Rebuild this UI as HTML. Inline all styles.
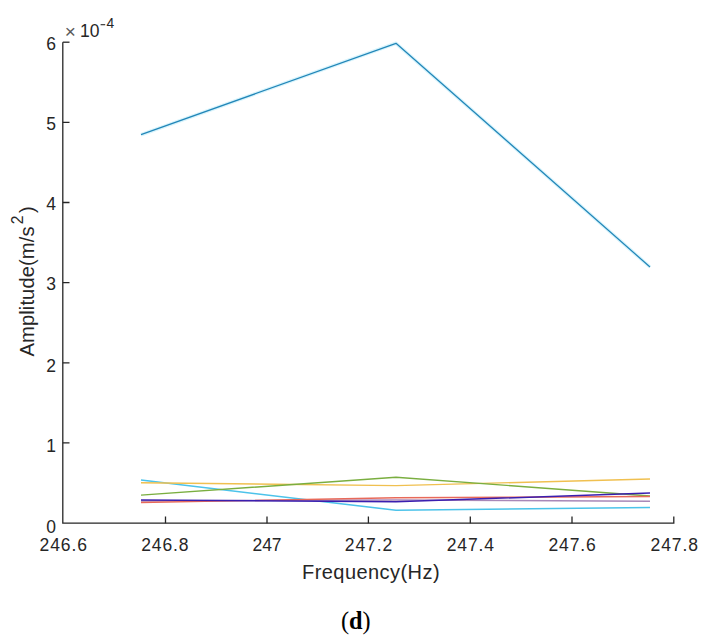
<!DOCTYPE html>
<html><head><meta charset="utf-8">
<style>
html,body{margin:0;padding:0;background:#fff;width:712px;height:641px;overflow:hidden}
svg{display:block}
text{font-family:"Liberation Sans",sans-serif;fill:#262626}
</style></head><body>
<svg width="712" height="641" viewBox="0 0 712 641">
<rect width="712" height="641" fill="#fff"/>
<!-- axes -->
<g stroke="#262626" stroke-width="1.3" fill="none">
<path d="M62.8 42.2 V523.2 H673.8 V516.5"/>
<path d="M62.8 42.2 H69.5"/>
<path d="M62.8 122.3 H69.5 M62.8 202.5 H69.5 M62.8 282.6 H69.5 M62.8 362.8 H69.5 M62.8 442.9 H69.5"/>
<path d="M165.5 523.2 V516.5 M267 523.2 V516.5 M368.4 523.2 V516.5 M470.3 523.2 V516.5 M572 523.2 V516.5"/>
</g>
<!-- y tick labels -->
<g font-size="17.5" text-anchor="end">
<text x="56" y="49.5">6</text>
<text x="56" y="129.5">5</text>
<text x="56" y="209.6">4</text>
<text x="56" y="289.7">3</text>
<text x="56" y="371.6">2</text>
<text x="56" y="452">1</text>
<text x="56" y="532.6">0</text>
</g>
<!-- x tick labels -->
<g font-size="17.5">
<text x="39.6" y="551" textLength="47.4" lengthAdjust="spacing">246.6</text>
<text x="141.2" y="551" textLength="47.4" lengthAdjust="spacing">246.8</text>
<text x="252.4" y="551" textLength="29.2" lengthAdjust="spacing">247</text>
<text x="344.8" y="551" textLength="47.4" lengthAdjust="spacing">247.2</text>
<text x="446.7" y="551" textLength="47.4" lengthAdjust="spacing">247.4</text>
<text x="548.4" y="551" textLength="47.4" lengthAdjust="spacing">247.6</text>
<text x="650.6" y="551" textLength="47.4" lengthAdjust="spacing">247.8</text>
</g>
<!-- exponent -->
<text x="64.8" y="38.4" font-size="19" style="fill:#5a5a5a">×</text>
<text x="80" y="36.5" font-size="17.5">10</text>
<rect x="100.6" y="24" width="4.6" height="1.3" fill="#4a4a4a"/>
<text x="106.4" y="28" font-size="13.8">4</text>
<!-- axis labels -->
<text x="302" y="578.6" font-size="20" textLength="137.6" lengthAdjust="spacing">Frequency(Hz)</text>
<g transform="translate(33.5,356.5) rotate(-90)">
<text x="0" y="0" font-size="20.2" textLength="130" lengthAdjust="spacing">Amplitude(m/s</text>
<text x="132.2" y="-10.2" font-size="15.6">2</text>
<text x="143.4" y="0" font-size="20.2">)</text>
</g>
<!-- data lines -->
<g fill="none" stroke-linejoin="round">
<g stroke-width="1.45">
<polyline stroke="#4cc3ea" points="141,480 396,510.3 650,507.5"/>
<polyline stroke="#f0c050" points="141,482.8 396,485.6 650,479"/>
<polyline stroke="#7aae40" points="141,495.1 396,477.2 650,496"/>
<polyline stroke="#a888b8" points="141,501 396,500 650,501.3"/>
<polyline stroke="#e86a5a" points="141,502.5 396,497.8 650,496.5"/>
<polyline stroke="#3a1fb0" points="141,500 396,501.8 650,493"/>
</g>
<polyline stroke="#d8f4fc" stroke-width="3.6" points="141,134.7 396,43.3 650,267"/>
<polyline stroke="#2286b8" stroke-width="1.25" points="141,134.7 396,43.3 650,267"/>
</g>
<!-- caption -->
<text x="341" y="629.2" font-size="24.3" style="font-family:'Liberation Serif',serif;fill:#000">(<tspan font-weight="bold">d</tspan>)</text>
</svg>
</body></html>
